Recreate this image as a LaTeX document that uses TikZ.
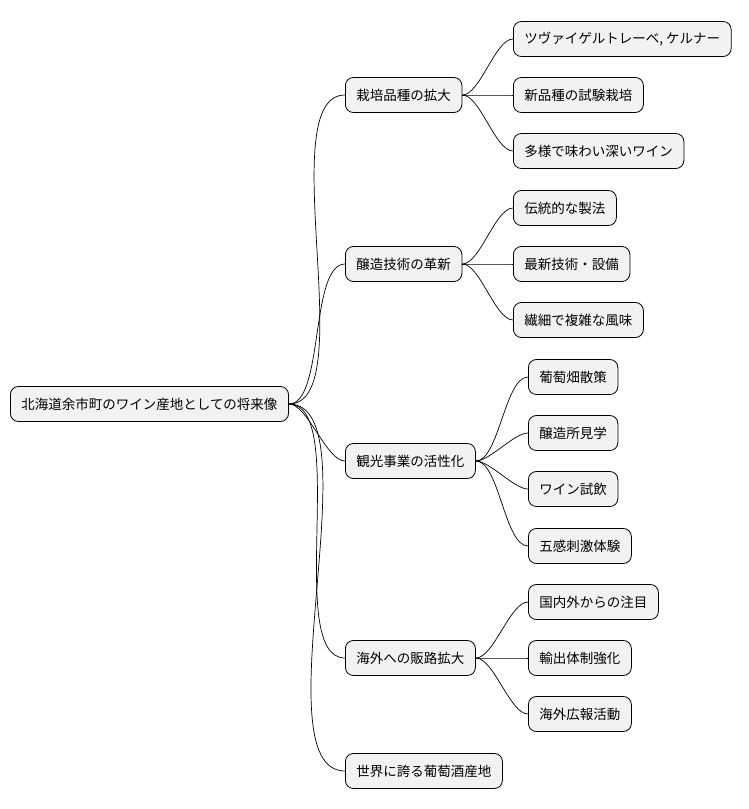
\documentclass[tikz,border=0pt]{standalone}
\usepackage{fontspec}
\setmainfont{Noto Sans CJK JP}
\begin{document}
\begin{tikzpicture}[x=1pt,y=-1pt,
  box/.style={draw=black,fill=black!5,rounded corners=8pt,minimum height=35pt,inner xsep=11pt,anchor=west,font=\fontsize{13.5}{16}\selectfont,line width=0.8pt},
  link/.style={draw=black,line width=0.7pt}]
\useasboundingbox (0,0) rectangle (749,809);
\node[box] (r) at (10,404) {北海道余市町のワイン産地としての将来像};
\node[box] (a) at (345,95) {栽培品種の拡大};
\node[box] (b) at (345,264) {醸造技術の革新};
\node[box] (c) at (345,461) {観光事業の活性化};
\node[box] (d) at (345,658) {海外への販路拡大};
\node[box] (e) at (345,771) {世界に誇る葡萄酒産地};
\node[box] (a1) at (513,39) {ツヴァイゲルトレーベ, ケルナー};
\node[box] (a2) at (513,95) {新品種の試験栽培};
\node[box] (a3) at (513,151) {多様で味わい深いワイン};
\node[box] (b1) at (513,208) {伝統的な製法};
\node[box] (b2) at (513,264) {最新技術・設備};
\node[box] (b3) at (513,320) {繊細で複雑な風味};
\node[box] (c1) at (528,377) {葡萄畑散策};
\node[box] (c2) at (528,433) {醸造所見学};
\node[box] (c3) at (528,489) {ワイン試飲};
\node[box] (c4) at (528,546) {五感刺激体験};
\node[box] (d1) at (528,602) {国内外からの注目};
\node[box] (d2) at (528,658) {輸出体制強化};
\node[box] (d3) at (528,714) {海外広報活動};
\foreach \p/\k in {r/a,r/b,r/c,r/d,r/e,a/a1,a/a2,a/a3,b/b1,b/b2,b/b3,c/c1,c/c2,c/c3,c/c4,d/d1,d/d2,d/d3}
  \draw[link] (\p.east) to[out=0,in=180,looseness=0.6] (\k.west);
\end{tikzpicture}
\end{document}
